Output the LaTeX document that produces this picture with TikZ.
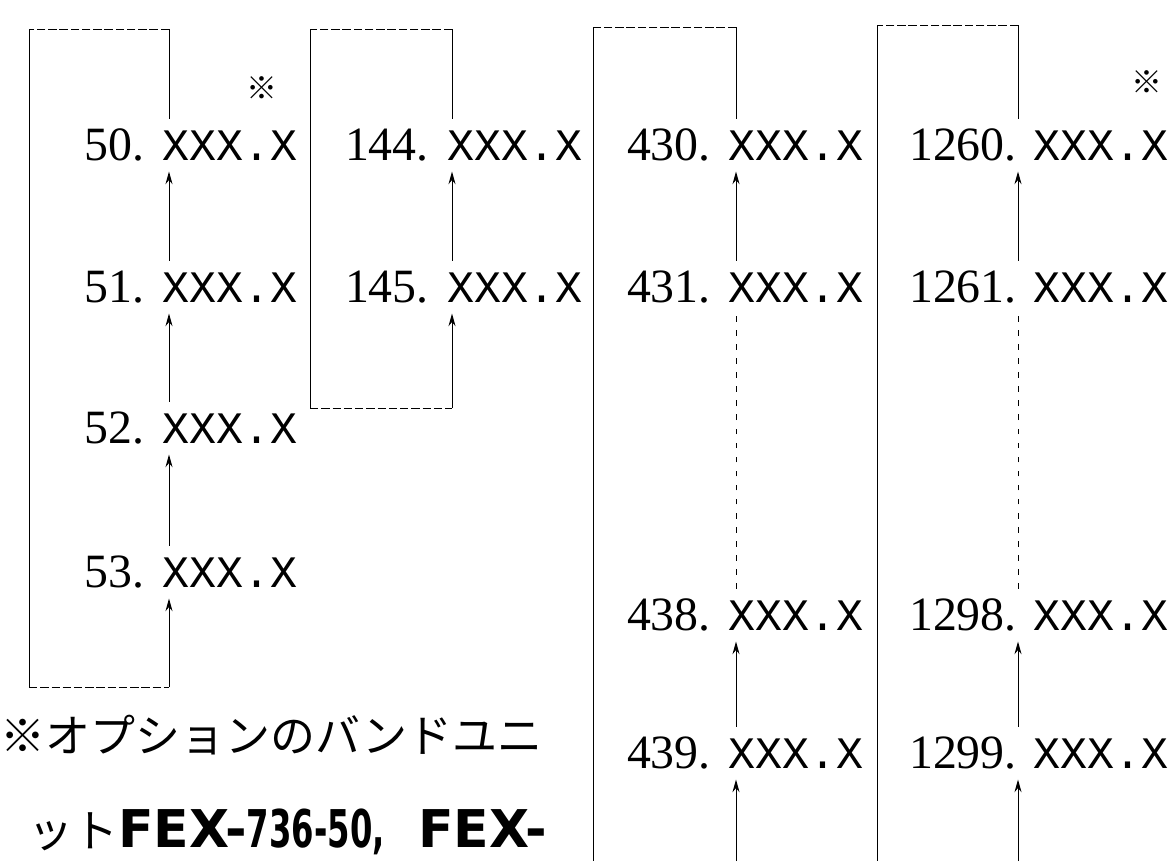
\documentclass[tikz,border=0pt]{standalone}
\usepackage{fontspec}
\usepackage{graphicx}
\usepackage{tikz}
\usetikzlibrary{arrows.meta}
\setmainfont{Liberation Serif}
\newfontfamily\numfnt{Liberation Serif}
\newfontfamily\cellfnt{Liberation Mono}
\newfontfamily\jpfnt{Noto Sans CJK JP}
\newfontfamily\fexfnt{DejaVu Sans}

\begin{document}
\begin{tikzpicture}[
    x=0.025cm, y=-0.025cm,
    num/.style={anchor=base east, inner sep=0pt,
                font=\numfnt\fontsize{34}{34}\selectfont},
    val/.style={anchor=base west, inner xsep=0pt, inner ysep=8pt,
                font=\cellfnt\fontsize{32}{32}\selectfont},
    note/.style={inner sep=0pt, font=\jpfnt\fontsize{22}{22}\selectfont},
    caption/.style={anchor=base west, inner sep=0pt,
                    font=\jpfnt\fontsize{32}{32}\selectfont},
    rim/.style={draw, line width=0.7pt},
    rimtop/.style={draw, line width=0.7pt, dash pattern=on 6pt off 2pt},
    flow/.style={draw, line width=0.7pt, -{Stealth[length=9pt,width=5pt]}},
    gap/.style={draw, line width=0.7pt, dash pattern=on 4pt off 6pt},
]
\useasboundingbox (0,0) rectangle (1174,861);

% arrow columns and box corners
\coordinate (c1) at (169,0);
\coordinate (c2) at (452,0);
\coordinate (c3) at (736,0);
\coordinate (c4) at (1018,0);
\coordinate (t1) at (29,29);
\coordinate (b1) at (29,687);
\coordinate (t2) at (310,29);
\coordinate (b2) at (310,408);
\coordinate (t3) at (593,27);
\coordinate (b3) at (593,861);
\coordinate (t4) at (877,25);
\coordinate (b4) at (877,861);

% channel rows
\foreach \n/\y in {50/160,51/302,52/443,53/587} {
  \node[num] (n\n) at (145,\y) {\n.};
  \node[val] (x\n) at (162,\y) {XXX.X};
}
\foreach \n/\y in {144/160,145/302} {
  \node[num] (n\n) at (429,\y) {\n.};
  \node[val] (x\n) at (447,\y) {XXX.X};
}
\foreach \n/\y in {430/160,431/302,438/630,439/768} {
  \node[num] (n\n) at (711,\y) {\n.};
  \node[val] (x\n) at (728,\y) {XXX.X};
}
\foreach \n/\y in {1260/160,1261/302,1298/630,1299/768} {
  \node[num] (n\n) at (1017,\y) {\n.};
  \node[val] (x\n) at (1033,\y) {XXX.X};
}

\node[note] (s1) at (262,88) {※};
\node[note] (s4) at (1147,82) {※};

% first group
\draw[flow] (x51.north -| c1) -- (x50.south -| c1);
\draw[flow] (x52.north -| c1) -- (x51.south -| c1);
\draw[flow] (x53.north -| c1) -- (x52.south -| c1);
\draw[rim] (x50.north -| c1) -- (c1 |- t1);
\draw[rimtop] (c1 |- t1) -- (t1);
\draw[rim] (t1) -- (b1);
\draw[rimtop] (b1) -- (b1 -| c1);
\draw[flow] (b1 -| c1) -- (x53.south -| c1);

% second group
\draw[flow] (x145.north -| c2) -- (x144.south -| c2);
\draw[rim] (x144.north -| c2) -- (c2 |- t2);
\draw[rimtop] (c2 |- t2) -- (t2);
\draw[rim] (t2) -- (b2);
\draw[rimtop] (b2) -- (b2 -| c2);
\draw[flow] (b2 -| c2) -- (x145.south -| c2);

% third group
\draw[flow] (x431.north -| c3) -- (x430.south -| c3);
\draw[gap] (x438.north -| c3) -- (x431.south -| c3);
\draw[flow] (x439.north -| c3) -- (x438.south -| c3);
\draw[flow] (b3 -| c3) -- (x439.south -| c3);
\draw[rim] (x430.north -| c3) -- (c3 |- t3);
\draw[rimtop] (c3 |- t3) -- (t3);
\draw[rim] (t3) -- (b3);

% fourth group
\draw[flow] (x1261.north -| c4) -- (x1260.south -| c4);
\draw[gap] (x1298.north -| c4) -- (x1261.south -| c4);
\draw[flow] (x1299.north -| c4) -- (x1298.south -| c4);
\draw[flow] (b4 -| c4) -- (x1299.south -| c4);
\draw[rim] (x1260.north -| c4) -- (c4 |- t4);
\draw[rimtop] (c4 |- t4) -- (t4);
\draw[rim] (t4) -- (b4);

% footnote
\node[caption] (cap1) at (0,752) {※オプションのバンドユニ};
\node[caption] (cap2) at (28,847) {ット{\fexfnt\bfseries\fontsize{37}{37}\selectfont FEX-\scalebox{0.62}[1]{736-50,}\hspace{24pt}FEX-}};

\end{tikzpicture}
\end{document}
